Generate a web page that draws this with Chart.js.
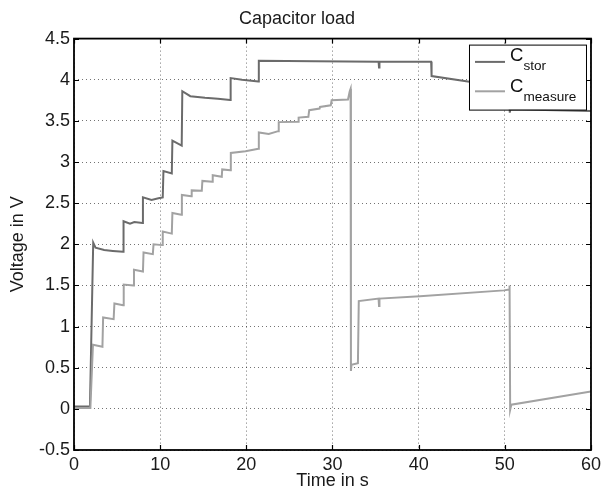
<!DOCTYPE html>
<html>
<head>
<meta charset="utf-8">
<script src="https://cdn.jsdelivr.net/npm/chart.js@4/dist/chart.umd.min.js"></script>
<style>
  body { margin: 0; background: #fff; }
  #wrap { width: 605px; height: 492px; }
</style>
</head>
<body>
<div id="wrap"><canvas id="capChart" width="605" height="492"></canvas></div>
<script>
const seriesNames = ["stor", "measure"];

// C_stor
const storTime = [0, 1.85, 2.23, 2.5, 3.5, 4.5, 5.7, 5.75, 6.5, 7.0, 7.95, 8.0, 9.0, 9.8, 10.3, 10.38, 11.35, 11.42, 12.5,
  12.57, 13.5, 15.2, 16.7, 18.12, 18.18, 19.5, 21.4, 21.45, 28, 35.35, 35.4, 35.45, 41.45, 41.5, 45.9, 50.5, 50.55, 50.6,
  50.65, 60];
const storVolt = [0.03, 0.03, 2.02, 1.96, 1.93, 1.92, 1.91, 2.28, 2.25, 2.27, 2.26, 2.57, 2.54, 2.56, 2.57, 2.89, 2.86, 3.26, 3.2,
  3.86, 3.8, 3.78, 3.77, 3.755, 4.02, 4.0, 3.98, 4.23, 4.225, 4.22, 4.15, 4.22, 4.22, 4.045, 3.976, 3.9, 3.64, 3.6,
  3.64, 3.62];

// C_measure
const measTime = [0, 1.9, 2.2, 3.3, 3.38, 4.6, 4.69, 5.7, 5.77, 6.9, 6.96, 8.0, 8.07, 9.15, 9.23, 10.25, 10.3, 11.35, 11.42,
  12.45, 12.52, 13.6, 13.66, 14.83, 14.9, 16.05, 16.1, 17.15, 17.2, 18.15, 18.2, 19.9, 21.4, 21.45, 22.6, 23.7, 23.76,
  26.0, 26.07, 27.2, 27.3, 28.5, 28.55, 29.8, 29.9, 31.8, 32.0, 32.1, 32.14, 32.2, 32.95, 33.05, 35.35, 35.4, 35.45,
  40.15, 49.9, 50.5, 50.55, 50.62, 50.75, 60];
const measVolt = [0.01, 0.01, 0.78, 0.755, 1.11, 1.09, 1.28, 1.26, 1.51, 1.5, 1.69, 1.67, 1.9, 1.88, 2.0, 1.99, 2.155, 2.13, 2.38,
  2.36, 2.6, 2.585, 2.655, 2.65, 2.77, 2.76, 2.84, 2.82, 2.91, 2.9, 3.11, 3.13, 3.16, 3.36, 3.34, 3.375, 3.485,
  3.49, 3.54, 3.55, 3.63, 3.65, 3.67, 3.69, 3.75, 3.76, 3.86, 3.89, 0.46, 0.535, 0.555, 1.31, 1.34, 1.25, 1.34,
  1.37, 1.44, 1.45, 1.5, -0.01, 0.05, 0.21];

const xTicks = [0, 10, 20, 30, 40, 50, 60];
const yTicks = [-0.5, 0, 0.5, 1, 1.5, 2, 2.5, 3, 3.5, 4, 4.5];

const storColor = "#6b6b6b";
const measColor = "#a2a2a2";
const font = "'Liberation Sans', Arial, Helvetica, sans-serif";

function toPoints(ts, vs) {
  return ts.map((t, i) => ({ x: t, y: vs[i] }));
}

// black box, inward ticks and the legend (MATLAB look)
const boxPlugin = {
  id: "boxPlugin",
  afterDatasetsDraw(chart) {
    const { ctx, chartArea: a, scales } = chart;
    ctx.save();
    ctx.strokeStyle = "#000";
    ctx.lineWidth = 1.2;
    ctx.beginPath();
    xTicks.forEach(v => {
      const px = Math.round(scales.x.getPixelForValue(v)) + 0.5;
      ctx.moveTo(px, a.bottom); ctx.lineTo(px, a.bottom - 5);
      ctx.moveTo(px, a.top); ctx.lineTo(px, a.top + 5);
    });
    yTicks.forEach(v => {
      const py = Math.round(scales.y.getPixelForValue(v)) + 0.5;
      ctx.moveTo(a.left, py); ctx.lineTo(a.left + 5, py);
      ctx.moveTo(a.right, py); ctx.lineTo(a.right - 5, py);
    });
    ctx.stroke();
    ctx.lineWidth = 1.8;
    ctx.strokeRect(a.left, a.top, a.right - a.left, a.bottom - a.top);

    // legend
    const lx = a.right - 122, ly = a.top + 6, lw = 117, lh = 65;
    ctx.fillStyle = "#fff";
    ctx.fillRect(lx, ly, lw, lh);
    ctx.lineWidth = 1;
    ctx.strokeRect(lx + 0.5, ly + 0.5, lw, lh);
    const rows = [
      { color: storColor, lineY: 17.3, base: 16.7, sub: 25, name: seriesNames[0] },
      { color: measColor, lineY: 46.7, base: 47.7, sub: 56, name: seriesNames[1] }
    ];
    rows.forEach(r => {
      ctx.strokeStyle = r.color;
      ctx.lineWidth = 2;
      ctx.beginPath();
      ctx.moveTo(lx + 6, ly + r.lineY);
      ctx.lineTo(lx + 36, ly + r.lineY);
      ctx.stroke();
      ctx.fillStyle = "#111";
      ctx.textBaseline = "alphabetic";
      ctx.textAlign = "left";
      ctx.font = "18.5px " + font;
      ctx.fillText("C", lx + 41, ly + r.base);
      ctx.font = "13.6px " + font;
      ctx.fillText(r.name, lx + 54.5, ly + r.sub);
    });
    ctx.restore();
  }
};

const ctx = document.getElementById("capChart").getContext("2d");

new Chart(ctx, {
  type: "line",
  data: {
    datasets: [
      {
        label: "C_stor",
        data: toPoints(storTime, storVolt),
        borderColor: storColor,
        borderWidth: 2,
        pointRadius: 0,
        order: 1
      },
      {
        label: "C_measure",
        data: toPoints(measTime, measVolt),
        borderColor: measColor,
        borderWidth: 2,
        pointRadius: 0,
        order: 0
      }
    ]
  },
  options: {
    responsive: false,
    animation: false,
    layout: { padding: { left: 0, right: 11, top: 0, bottom: 0 } },
    scales: {
      x: {
        type: "linear",
        min: 0,
        max: 60,
        afterBuildTicks: s => { s.ticks = xTicks.map(v => ({ value: v })); },
        afterFit: s => { s.height = 42; },
        grid: { color: "rgba(0,0,0,0.55)", drawTicks: false, lineWidth: 1 },
        border: { display: false, dash: [1, 3] },
        ticks: { padding: 4, color: "#1a1a1a", font: { family: font, size: 18 }, maxRotation: 0 },
        title: { display: true, text: "Time in s", color: "#1a1a1a", font: { family: font, size: 18 }, padding: { top: 0, bottom: 0 } }
      },
      y: {
        min: -0.5,
        max: 4.5,
        afterBuildTicks: s => { s.ticks = yTicks.map(v => ({ value: v })); },
        afterFit: s => { s.width = 74; },
        grid: { color: "rgba(0,0,0,0.55)", drawTicks: false, lineWidth: 1 },
        border: { display: false, dash: [1, 3] },
        ticks: { padding: 4, color: "#1a1a1a", font: { family: font, size: 18 }, callback: v => String(v) },
        title: { display: true, text: "Voltage in V", color: "#1a1a1a", font: { family: font, size: 18 }, padding: { top: 7, bottom: 0 } }
      }
    },
    plugins: {
      legend: { display: false },
      tooltip: { enabled: false },
      title: {
        display: true,
        text: "Capacitor load",
        color: "#1a1a1a",
        font: { family: font, size: 18, weight: "normal" },
        padding: { top: 8, bottom: 9 }
      }
    }
  },
  plugins: [boxPlugin]
});
</script>
</body>
</html>
